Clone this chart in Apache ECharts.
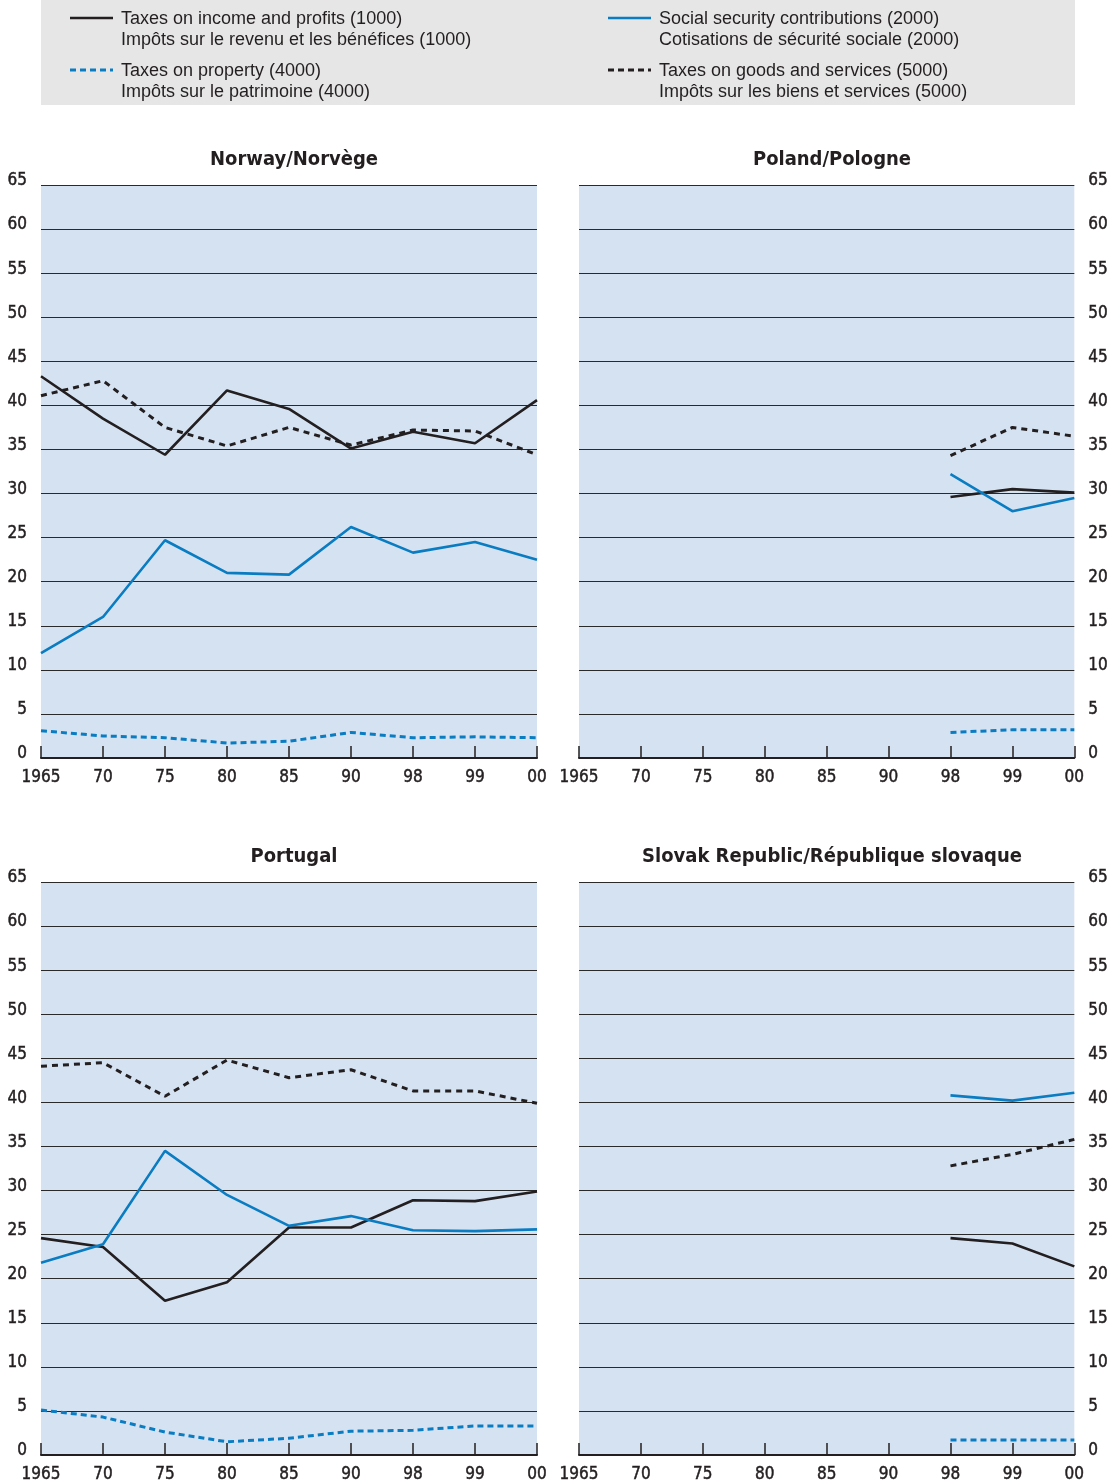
<!DOCTYPE html>
<html>
<head>
<meta charset="utf-8">
<title>Tax structures</title>
<script src="https://cdn.jsdelivr.net/npm/echarts@6/dist/echarts.min.js"></script>
<style>
  html, body { margin: 0; padding: 0; background: #ffffff; }
  #chart { width: 1111px; height: 1484px; }
</style>
</head>
<body>
<div id="chart"></div>
<script>
// Years on the horizontal axis and their tick labels
const years = ['1965', '70', '75', '80', '85', '90', '98', '99', '00'];
const yTicks = [0, 65, 5]; // min, max, step

// Panel titles
const titles = ['Norway/Norvège', 'Poland/Pologne', 'Portugal', 'Slovak Republic/République slovaque'];

// Series labels (English / French)
const seriesNames = [
  'Taxes on income and profits (1000)\nImpôts sur le revenu et les bénéfices (1000)',
  'Social security contributions (2000)\nCotisations de sécurité sociale (2000)',
  'Taxes on property (4000)\nImpôts sur le patrimoine (4000)',
  'Taxes on goods and services (5000)\nImpôts sur les biens et services (5000)'
];

// Norway
const norIncome   = [43.3, 38.5, 34.4, 41.7, 39.6, 35.1, 37.0, 35.7, 40.6];
const norSocial   = [11.9, 16.0, 24.7, 21.0, 20.8, 26.2, 23.3, 24.5, 22.5];
const norProperty = [3.1, 2.5, 2.3, 1.7, 1.9, 2.9, 2.3, 2.4, 2.3];
const norGoods    = [41.1, 42.8, 37.5, 35.4, 37.5, 35.5, 37.2, 37.1, 34.4];

// Poland
const polIncome   = [null, null, null, null, null, null, 29.6, 30.5, 30.1];
const polSocial   = [null, null, null, null, null, null, 32.2, 28.0, 29.5];
const polProperty = [null, null, null, null, null, null, 2.9, 3.2, 3.2];
const polGoods    = [null, null, null, null, null, null, 34.3, 37.5, 36.5];

// Portugal
const prtIncome   = [24.6, 23.6, 17.5, 19.6, 25.8, 25.8, 28.9, 28.8, 29.9];
const prtSocial   = [21.8, 23.9, 34.5, 29.5, 26.0, 27.1, 25.5, 25.4, 25.6];
const prtProperty = [5.1, 4.3, 2.6, 1.5, 1.9, 2.7, 2.8, 3.3, 3.3];
const prtGoods    = [44.1, 44.5, 40.7, 44.8, 42.8, 43.7, 41.3, 41.3, 39.9];

// Slovak Republic
const svkIncome   = [null, null, null, null, null, null, 24.6, 24.0, 21.4];
const svkSocial   = [null, null, null, null, null, null, 40.8, 40.2, 41.1];
const svkProperty = [null, null, null, null, null, null, 1.7, 1.7, 1.7];
const svkGoods    = [null, null, null, null, null, null, 32.8, 34.1, 35.8];

const panels = [
  [norIncome, norSocial, norProperty, norGoods],
  [polIncome, polSocial, polProperty, polGoods],
  [prtIncome, prtSocial, prtProperty, prtGoods],
  [svkIncome, svkSocial, svkProperty, svkGoods]
];

const BLACK = '#231f20';
const BLUE = '#0a7cc1';
const narrow = "'DejaVu Sans Condensed', 'Liberation Sans', sans-serif";
const regular = "'Liberation Sans', Arial, sans-serif";

const lineStyles = [
  { color: BLACK, width: 2.6, type: 'solid' },
  { color: BLUE, width: 2.6, type: 'solid' },
  { color: BLUE, width: 3, type: [6, 4] },
  { color: BLACK, width: 3, type: [6, 5] }
];

const layout = [
  { left: 41, top: 185, side: 'left' },
  { left: 579, top: 185, side: 'right' },
  { left: 41, top: 882, side: 'left' },
  { left: 579, top: 882, side: 'right' }
];
const gridW = 496, gridH = 573;

// Tick-label text: condensed face with a thin outline for a medium weight
const tickText = {
  fontFamily: narrow, fontSize: 17, color: BLACK,
  textBorderColor: BLACK, textBorderWidth: 0.45
};

const grids = [], xAxes = [], yAxes = [], series = [], titleOpts = [];
layout.forEach((p, i) => {
  grids.push({
    left: p.left, top: p.top, width: gridW, height: gridH,
    show: true, backgroundColor: '#d5e2f2', borderWidth: 0
  });
  titleOpts.push({
    text: titles[i],
    left: p.left + gridW / 2, top: p.top - 40, textAlign: 'center',
    textStyle: { fontFamily: narrow, fontWeight: 'bold', fontSize: 20, color: BLACK }
  });
  xAxes.push({
    type: 'category', gridIndex: i, data: years, boundaryGap: false,
    axisLine: { show: true, lineStyle: { color: BLACK, width: 2 } },
    axisTick: { show: true, inside: true, length: 12, lineStyle: { color: BLACK, width: 1.5 } },
    axisLabel: Object.assign({ margin: 11 }, tickText),
    splitLine: { show: false }
  });
  yAxes.push({
    type: 'value', gridIndex: i, min: yTicks[0], max: yTicks[1], interval: yTicks[2],
    position: p.side,
    axisLine: { show: false }, axisTick: { show: false },
    axisLabel: Object.assign({ margin: 14, verticalAlign: 'bottom', lineHeight: 8 }, tickText),
    splitLine: { show: true, lineStyle: { color: '#2a2a2a', width: 1.2 } }
  });
  panels[i].forEach((vals, k) => {
    series.push({
      type: 'line', xAxisIndex: i, yAxisIndex: i, data: vals,
      name: seriesNames[k], showSymbol: false, symbol: 'none', silent: true,
      lineStyle: lineStyles[k], z: k === 2 || k === 3 ? 3 : 4,
      animation: false
    });
  });
});

// Legend panel drawn as graphic elements (two-line bilingual labels)
const legendItems = [
  { x: 70, y: 18, k: 0 },
  { x: 608, y: 18, k: 1 },
  { x: 70, y: 70, k: 2 },
  { x: 608, y: 70, k: 3 }
];
const legendGraphics = [{
  type: 'rect', left: 41, top: 0, shape: { width: 1034, height: 105 },
  style: { fill: '#e6e6e6' }, silent: true
}];
legendItems.forEach(it => {
  const ls = lineStyles[it.k];
  legendGraphics.push({
    type: 'line', silent: true,
    shape: { x1: it.x, y1: it.y, x2: it.x + 43, y2: it.y },
    style: { stroke: ls.color, lineWidth: ls.width, lineDash: ls.type === 'solid' ? null : [6, 4] }
  });
  legendGraphics.push({
    type: 'text', silent: true, x: it.x + 51, y: it.y - 9,
    style: {
      text: seriesNames[it.k], fill: BLACK, font: '18px ' + regular,
      lineHeight: 21, verticalAlign: 'top'
    }
  });
});

const chart = echarts.init(document.getElementById('chart'), null, { renderer: 'canvas' });
chart.setOption({
  animation: false,
  backgroundColor: '#ffffff',
  title: titleOpts,
  grid: grids,
  xAxis: xAxes,
  yAxis: yAxes,
  series: series,
  graphic: legendGraphics
});
</script>
</body>
</html>
